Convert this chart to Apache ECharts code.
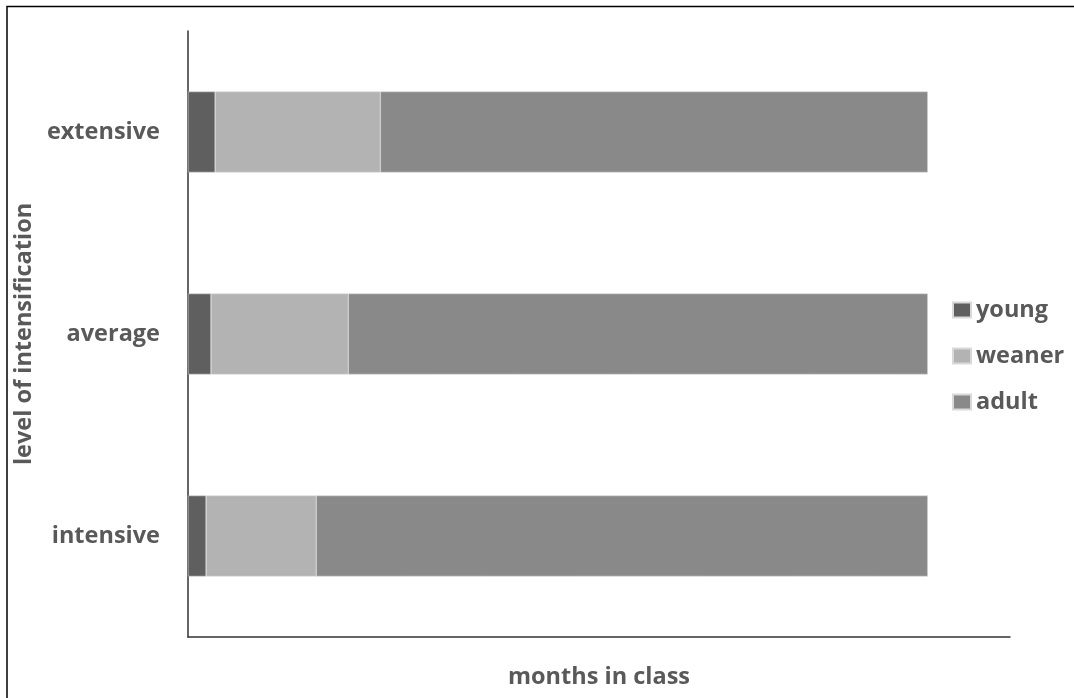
<!DOCTYPE html>
<html>
<head>
<meta charset="utf-8">
<script src="https://cdn.jsdelivr.net/npm/echarts@6/dist/echarts.min.js"></script>
<style>html,body{margin:0;padding:0;background:#fff;}#c{width:1074px;height:698px;}</style>
</head>
<body>
<div id="c"></div>
<script>
const categories = ['extensive', 'average', 'intensive'];
const young = [3.3, 2.8, 2.2];
const weaner = [20.1, 16.7, 13.4];
const adult = [66.6, 70.5, 74.4];

const FONT = 'Open Sans';
const FS = 23.5;
const TXT = '#595959';
const chart = echarts.init(document.getElementById('c'));
const common = { type: 'bar', stack: 'total', barWidth: '40%', emphasis: { disabled: true } };
chart.setOption({
  animation: false,
  backgroundColor: '#fff',
  textStyle: { fontFamily: FONT },
  graphic: [{
    type: 'polyline',
    shape: { points: [[7, 700], [7, 6.5], [1080, 6.5]] },
    style: { stroke: '#000', lineWidth: 1.5, fill: null }
  }],
  grid: { left: 188, right: 64, top: 31, bottom: 61 },
  legend: {
    orient: 'vertical', left: 947, top: 293,
    itemWidth: 18, itemHeight: 15, itemGap: 22,
    icon: 'rect',
    textStyle: { fontFamily: FONT, fontSize: FS, fontWeight: 'bold', color: TXT, padding: [0, 0, 0, 0] },
    data: ['young', 'weaner', 'adult']
  },
  xAxis: {
    type: 'value', min: 0, max: 100,
    name: 'months in class', nameLocation: 'middle', nameGap: 28,
    nameTextStyle: { fontFamily: FONT, fontSize: FS, fontWeight: 'bold', color: TXT },
    axisLine: { show: true, lineStyle: { color: '#333', width: 1.5 } },
    axisTick: { show: false }, axisLabel: { show: false }, splitLine: { show: false }
  },
  yAxis: {
    type: 'category', inverse: true, data: categories,
    name: 'level of intensification', nameLocation: 'middle', nameGap: 144,
    nameTextStyle: { fontFamily: FONT, fontSize: FS, fontWeight: 'bold', color: TXT },
    axisLine: { show: true, lineStyle: { color: '#333', width: 1.5 } },
    axisTick: { show: false },
    axisLabel: { margin: 28, fontFamily: FONT, fontSize: FS, fontWeight: 'bold', color: TXT }
  },
  series: [
    Object.assign({ name: 'young', data: young, itemStyle: { color: '#5f5f5f', borderColor: '#d9d9d9', borderWidth: 0.5 } }, common),
    Object.assign({ name: 'weaner', data: weaner, itemStyle: { color: '#b3b3b3', borderColor: '#d9d9d9', borderWidth: 0.5 } }, common),
    Object.assign({ name: 'adult', data: adult, itemStyle: { color: '#898989', borderColor: '#d9d9d9', borderWidth: 0.5 } }, common)
  ]
});
</script>
</body>
</html>
